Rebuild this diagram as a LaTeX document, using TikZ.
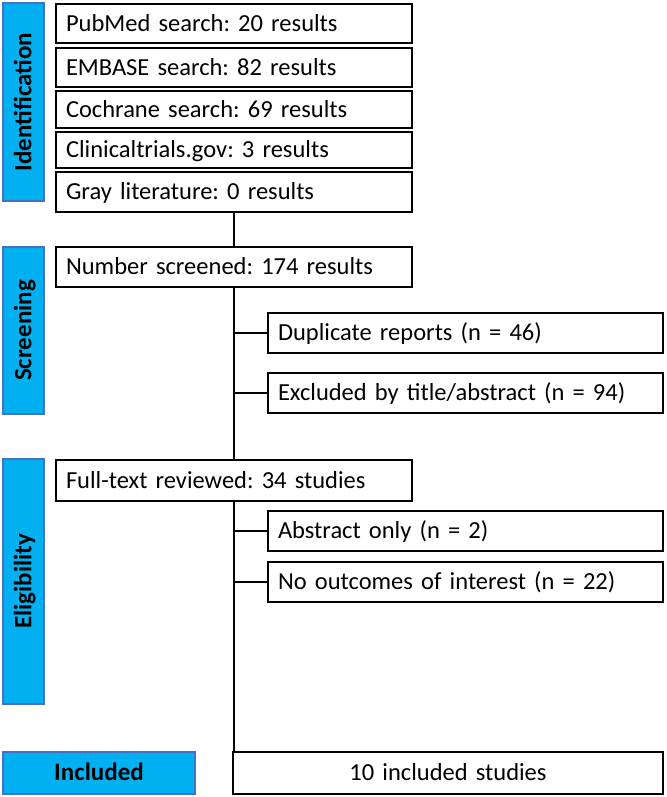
\documentclass[tikz,border=0pt]{standalone}
\usepackage{fontspec}
\setmainfont{Carlito}
\frenchspacing
\begin{document}
\begin{tikzpicture}[x=1pt,y=-1pt,
  every node/.style={font=\fontsize{24.5}{29}\selectfont, text height=15.8pt, text depth=0pt},
  wbox/.style={draw=black, line width=2pt, fill=white, rectangle, inner xsep=10pt, inner ysep=0pt, align=left},
  bar/.style={draw={rgb,255:red,68;green,114;blue,196}, line width=1.2pt, fill={rgb,255:red,0;green,176;blue,240}, rectangle, inner sep=0pt, font=\fontsize{25}{30}\selectfont\bfseries},
  conn/.style={line width=2pt, draw=black}]
\useasboundingbox (0,0) rectangle (666,797);
% phase bars
\node[bar, rotate=90, minimum width=198pt, minimum height=41pt] (barI) at (23.5,102) {Identification};
\node[bar, rotate=90, minimum width=167pt, minimum height=41pt] (barS) at (23.5,330.5) {Screening};
\node[bar, rotate=90, minimum width=245pt, minimum height=41pt] (barE) at (23.5,581.5) {Eligibility};
\node[bar, minimum width=192pt, minimum height=42pt] (barInc) at (99,773) {Included};
% identification boxes
\node[wbox, text width=336pt, minimum height=39pt] (id1) at (234,23.5) {PubMed search: 20 results};
\node[wbox, text width=336pt, minimum height=39pt] (id2) at (234,67.5) {EMBASE search: 82 results};
\node[wbox, text width=336pt, minimum height=37pt] (id3) at (234,109.5) {Cochrane search: 69 results};
\node[wbox, text width=336pt, minimum height=36pt] (id4) at (234,150) {Clinicaltrials.gov: 3 results};
\node[wbox, text width=336pt, minimum height=40pt] (id5) at (234,192) {Gray literature: 0 results};
% screening
\node[wbox, text width=336pt, minimum height=40pt] (scr) at (234,267) {Number screened: 174 results};
\node[wbox, text width=375pt, minimum height=40pt] (dup) at (465.5,333) {Duplicate reports (n = 46)};
\node[wbox, text width=375pt, minimum height=40pt] (exc) at (465.5,393) {Excluded by title/abstract (n = 94)};
% eligibility
\node[wbox, text width=336pt, minimum height=41pt] (ft) at (234,480.5) {Full-text reviewed: 34 studies};
\node[wbox, text width=375pt, minimum height=40pt] (abs) at (465.5,531) {Abstract only (n = 2)};
\node[wbox, text width=375pt, minimum height=40pt] (noo) at (465.5,582) {No outcomes of interest (n = 22)};
% included
\node[wbox, text width=410pt, minimum height=42pt, align=center] (inc) at (448,773) {10 included studies};
\coordinate (incTop) at (inc.north -| ft.south);
% connectors
\draw[conn] (id5.south) -- (scr.north);
\draw[conn] (scr.south) -- (ft.north);
\draw[conn] (dup.west) -- (dup.west -| scr.south);
\draw[conn] (exc.west) -- (exc.west -| scr.south);
\draw[conn] (ft.south) -- (incTop);
\draw[conn] (abs.west) -- (abs.west -| ft.south);
\draw[conn] (noo.west) -- (noo.west -| ft.south);
\end{tikzpicture}
\end{document}
